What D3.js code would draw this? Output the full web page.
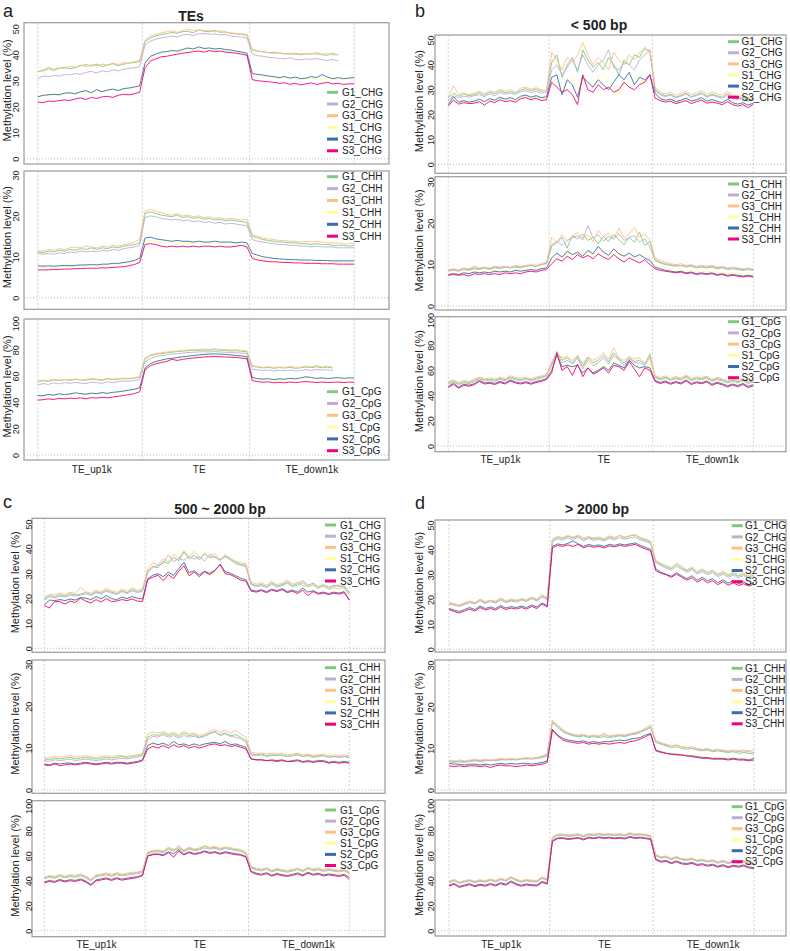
<!DOCTYPE html>
<html><head><meta charset="utf-8">
<script src="https://cdn.jsdelivr.net/npm/d3@7"></script>
<style>body{margin:0;background:#fff} svg{display:block} text{font-family:Arial,"Liberation Sans",sans-serif;fill:#222}</style>
</head><body><svg id="chart" width="790" height="951"></svg>
<script>
// ---------- labels ----------
const seriesNames = ["G1","G2","G3","S1","S2","S3"];
const seriesColors = ["#7FC97F","#BEAED4","#FDC086","#FFFF99","#386CB0","#F0027F"];
const contexts = ["CHG","CHH","CpG"];
const yTicksCHG = [0,10,20,30,40,50];
const yTicksCHH = [0,10,20,30];
const yTicksCpG = [0,20,40,60,80,100];
const xTickLabels = ["TE_up1k","TE","TE_down1k"];
const xTickPos = [10,30,51];
const regionBounds = [0,19.5,39.5,59];
const panelTitles = ["TEs","< 500 bp","500 ~ 2000 bp","> 2000 bp"];
const panelLetters = ["a","b","c","d"];

// ---------- panel a: TEs ----------
const aCHG_G1=[33.5,33.8,34.6,34.0,34.8,35.2,34.6,35.0,35.8,36.2,35.6,36.4,35.4,36.0,36.6,35.8,36.4,36.8,37.0,37.4,
45.0,46.5,47.2,47.8,48.0,48.6,48.2,48.9,49.0,48.4,49.6,49.0,48.8,49.4,48.6,48.8,48.2,48.0,47.8,47.4,
41.8,41.4,41.2,40.8,41.0,40.6,40.4,40.2,40.6,40.0,40.4,40.2,40.8,40.0,39.8,40.6,39.8,null,null,null];
const aCHG_G2=[30.8,31.8,31.6,32.0,31.8,32.4,32.2,32.8,32.4,33.2,33.6,33.0,33.8,33.4,34.2,33.8,34.4,34.8,35.0,35.4,
43.8,45.2,46.0,46.4,46.8,47.2,46.8,47.6,47.8,47.4,48.0,48.2,47.8,48.0,47.6,47.8,47.2,47.0,46.8,46.4,
40.2,39.6,39.4,39.0,38.8,38.6,38.4,38.8,38.2,38.0,38.4,38.2,38.6,38.0,37.8,38.2,37.6,null,null,null];
const aCHG_G3=[33.4,34.2,35.2,34.4,35.0,34.6,35.6,35.2,36.0,35.4,36.2,35.8,36.4,36.0,36.8,36.2,37.0,36.6,37.4,37.8,
45.6,47.2,47.8,48.4,48.8,49.2,48.6,49.4,49.8,49.2,49.6,49.2,49.4,48.8,49.2,48.6,48.4,48.2,48.0,47.8,
42.0,41.6,41.0,40.8,40.4,40.8,40.2,40.6,40.0,40.4,40.2,40.6,40.0,40.2,40.4,39.8,40.2,null,null,null];
const aCHG_S1=[23.8,24.2,24.4,24.6,24.4,25.0,25.2,24.8,25.4,25.8,25.2,26.0,25.6,26.2,26.4,26.0,26.6,26.8,27.2,27.6,
36.6,38.8,39.6,40.4,40.6,41.0,40.8,41.4,41.8,41.6,42.2,41.8,42.0,41.6,41.8,41.4,41.2,41.0,40.6,40.2,
32.2,31.8,31.6,31.4,31.2,30.8,31.0,30.6,30.8,30.4,30.6,30.8,30.4,30.6,30.2,30.4,30.6,30.2,30.4,30.8];
const aCHG_S2=[23.8,24.4,24.6,24.8,24.6,25.2,25.4,25.0,25.8,26.2,25.4,26.6,25.8,26.4,26.8,26.2,27.0,27.2,27.6,28.0,
36.8,39.4,40.2,41.0,41.2,41.6,41.4,42.0,42.6,42.2,43.0,42.4,42.6,42.2,42.4,42.0,41.8,41.4,41.0,40.6,
32.8,32.4,32.2,31.8,31.6,31.2,31.6,31.0,31.4,30.8,31.0,31.6,31.2,32.4,31.4,30.8,31.2,30.8,31.0,31.2];
const aCHG_S3=[21.8,21.6,22.2,22.0,22.4,22.6,22.4,23.0,23.4,22.8,23.6,23.2,23.8,24.0,23.6,24.4,24.8,24.6,25.0,25.6,
35.0,37.6,38.4,39.2,39.4,39.8,40.2,40.6,40.8,41.2,41.4,41.0,41.6,41.2,41.4,41.0,40.8,40.6,40.2,39.8,
30.4,30.0,29.8,29.6,29.4,29.0,29.2,28.6,29.0,28.4,28.8,29.2,28.6,29.0,29.4,28.8,29.0,28.6,28.8,28.8];

const aCHH_G1=[11.2,11.0,11.4,11.2,11.6,11.4,11.8,11.6,12.0,11.8,12.2,11.8,12.2,12.0,12.4,12.2,12.6,12.8,13.0,13.4,
20.6,21.0,20.6,20.2,20.0,19.8,20.2,19.6,19.8,19.4,19.6,19.2,19.4,19.0,19.2,18.8,19.0,18.8,18.6,18.4,
15.0,14.6,14.2,14.0,13.8,13.6,13.6,13.4,13.4,13.2,13.2,13.0,13.2,13.0,13.0,12.8,12.8,12.8,12.6,12.8];
const aCHH_G2=[10.8,10.6,10.8,10.6,11.0,10.8,11.2,11.0,11.4,11.2,11.4,11.2,11.6,11.4,11.8,11.6,12.0,12.2,12.4,12.8,
19.6,20.0,19.8,19.4,19.2,19.0,19.2,18.8,19.0,18.6,18.8,18.4,18.6,18.2,18.4,18.0,18.2,18.0,17.8,17.6,
14.2,13.8,13.6,13.4,13.2,13.0,13.0,12.8,12.8,12.6,12.6,12.4,12.6,12.4,12.4,12.4,12.2,12.2,12.2,12.2];
const aCHH_G3=[11.6,11.4,11.8,11.6,12.0,11.8,12.2,12.4,12.2,12.6,12.4,12.2,12.6,12.4,12.8,12.6,13.0,13.2,13.6,14.2,
21.2,21.6,21.2,20.8,20.4,20.2,20.6,20.0,20.2,19.8,20.0,19.6,19.8,19.4,19.6,19.2,19.4,19.2,19.0,19.2,
15.4,15.0,14.6,14.4,14.2,14.0,14.0,13.8,13.8,13.6,13.8,13.6,13.8,13.6,13.4,13.4,13.4,13.2,13.2,13.4];
const aCHH_S1=[7.4,7.4,7.5,7.4,7.5,7.6,7.6,7.7,7.7,7.8,7.8,7.9,7.9,8.0,8.1,8.2,8.3,8.5,8.7,9.0,
13.8,14.0,13.8,13.6,13.6,13.4,13.4,13.4,13.2,13.4,13.2,13.2,13.4,13.2,13.2,13.2,13.0,13.2,13.0,12.8,
10.0,9.6,9.4,9.2,9.0,9.0,8.9,8.8,8.8,8.8,8.7,8.7,8.6,8.6,8.6,8.6,8.5,8.5,8.5,8.5];
const aCHH_S2=[7.8,7.7,7.8,7.7,7.8,7.9,7.8,7.9,8.0,8.0,8.1,8.0,8.2,8.2,8.4,8.4,8.6,8.8,9.1,9.6,
14.6,14.8,14.4,14.2,14.0,13.8,14.0,13.8,13.8,13.6,13.8,13.6,13.6,13.8,13.6,13.6,13.6,13.4,13.6,13.4,
10.8,10.4,10.0,9.8,9.6,9.5,9.4,9.3,9.3,9.2,9.2,9.2,9.1,9.1,9.1,9.0,9.0,9.0,9.0,9.0];
const aCHH_S3=[6.8,6.8,6.8,6.9,6.9,7.0,7.0,7.1,7.1,7.2,7.2,7.2,7.3,7.3,7.4,7.5,7.6,7.8,8.1,8.6,
13.0,13.2,13.0,12.6,12.4,12.6,12.4,12.6,12.4,12.6,12.4,12.6,12.6,12.4,12.6,12.4,12.4,12.6,12.8,12.4,
9.6,9.2,9.0,8.8,8.8,8.7,8.6,8.6,8.5,8.5,8.4,8.4,8.4,8.3,8.3,8.3,8.2,8.2,8.2,8.2];

const aCpG_G1=[55.6,56.4,55.8,57.0,56.4,57.2,56.6,57.4,57.0,56.8,57.6,57.2,56.6,57.8,57.2,57.6,58.0,57.8,58.4,59.0,
73.0,75.4,76.4,77.0,77.6,78.0,78.6,78.8,79.2,79.6,79.4,79.8,79.6,80.0,79.6,79.4,79.0,79.2,78.8,78.4,
67.4,66.8,66.2,66.6,65.8,66.4,66.0,66.6,65.8,66.2,66.8,66.4,67.0,66.2,66.8,66.0,null,null,null,null];
const aCpG_G2=[53.0,54.2,53.6,54.8,54.0,55.0,54.4,55.2,54.6,54.2,55.4,55.0,54.4,55.6,55.0,55.8,56.2,56.0,56.6,57.4,
70.8,73.4,74.6,75.4,76.0,76.6,77.0,77.4,77.8,78.0,78.2,78.4,78.2,78.6,78.2,78.0,77.8,77.6,77.4,77.0,
65.0,64.6,64.2,64.6,63.8,64.4,64.0,64.6,63.8,64.2,64.8,64.2,65.0,64.4,64.8,64.0,null,null,null,null];
const aCpG_G3=[56.0,57.0,56.4,57.6,56.8,57.4,57.0,57.8,57.2,57.4,58.0,57.6,57.2,58.2,57.6,58.0,58.4,58.2,58.8,59.4,
73.6,76.0,77.0,77.6,78.2,78.6,79.0,79.4,79.8,80.0,80.2,80.4,80.2,80.6,80.2,80.0,79.8,79.8,79.4,79.0,
67.8,67.2,66.6,67.0,66.4,66.8,66.4,67.2,66.6,66.8,67.4,67.0,68.0,66.8,67.4,66.6,null,null,null,null];
const aCpG_S1=[44.2,44.6,45.4,44.8,45.6,45.2,46.0,45.6,46.2,45.8,46.4,46.0,46.6,46.4,47.0,47.4,47.8,48.4,49.2,50.2,
65.8,69.0,70.4,71.4,72.2,72.8,73.4,73.8,74.2,74.6,75.0,75.2,75.4,75.6,75.4,75.2,75.0,74.8,74.4,74.0,
57.4,56.8,56.4,56.8,56.2,56.6,56.4,57.0,56.6,57.2,57.6,57.2,56.8,57.0,56.6,56.8,57.0,56.8,57.2,57.0];
const aCpG_S2=[45.2,45.0,46.0,45.4,46.6,45.8,46.4,47.2,46.6,46.2,47.0,46.6,47.4,46.8,47.6,48.0,48.6,49.2,50.0,51.0,
66.0,69.4,71.0,72.0,73.0,73.4,74.0,74.6,75.0,75.6,76.0,76.4,76.6,76.8,76.6,76.4,76.0,75.6,75.2,74.6,
58.8,58.0,57.6,58.0,57.2,57.8,57.6,58.2,57.8,58.6,59.4,58.8,58.2,58.6,58.0,58.4,58.8,58.2,58.6,58.4];
const aCpG_S3=[41.6,42.0,42.6,42.2,43.0,42.6,43.2,42.8,43.4,42.6,43.6,43.2,43.8,43.4,44.0,44.6,45.2,45.8,46.6,48.0,
64.6,67.8,69.2,70.2,71.0,72.6,71.8,72.6,73.2,73.6,74.0,74.4,74.6,74.8,74.6,74.4,74.2,74.0,73.6,73.0,
56.4,55.8,55.2,55.6,54.8,55.2,54.8,55.4,55.0,55.4,55.8,55.4,55.0,55.4,55.0,55.2,55.4,55.0,55.4,55.2];

// ---------- panel b: < 500 bp ----------
const bCHG_G1=[26.8,28.6,27.4,28.2,27.6,28.0,28.8,27.8,29.0,28.4,29.6,28.8,29.2,28.6,29.8,30.4,29.6,30.2,29.4,29.8,
41.0,44.0,35.0,40.0,43.0,37.0,46.0,42.0,39.0,41.0,38.0,43.0,40.0,36.0,42.0,40.0,44.0,43.0,47.0,45.0,
30.2,28.4,27.6,28.2,27.0,27.8,28.6,27.2,28.0,28.8,27.4,28.2,27.6,27.0,28.4,27.2,26.4,27.0,25.8,26.6];
const bCHG_G2=[25.8,27.6,26.8,27.4,27.0,27.6,28.0,27.2,28.4,27.6,28.8,28.2,28.6,28.0,29.2,29.6,28.8,29.4,28.6,29.0,
38.0,40.0,36.0,39.0,42.0,38.0,44.0,40.0,37.0,40.0,42.0,46.0,39.0,38.0,41.0,40.0,38.0,42.0,44.0,46.0,
29.6,28.0,27.2,27.8,26.8,27.4,28.2,27.0,27.6,28.4,27.0,27.8,27.2,26.6,28.0,26.8,26.0,26.6,25.4,26.2];
const bCHG_G3=[27.0,31.6,28.2,28.8,28.0,28.6,29.4,28.4,29.6,29.0,30.2,29.4,30.0,29.2,30.6,31.0,30.2,30.8,30.0,29.6,
45.0,42.0,38.0,43.0,41.0,44.0,49.0,44.0,40.0,43.0,41.0,38.0,45.0,42.0,40.0,44.0,42.0,45.0,46.0,46.0,
31.2,29.0,28.4,29.0,27.8,28.6,29.4,28.0,28.8,29.6,28.2,29.0,28.4,27.8,29.4,28.0,27.2,27.8,26.6,27.4];
const bCHG_S1=[24.0,26.4,25.0,25.4,24.8,25.2,25.8,25.0,26.0,25.4,26.6,25.8,26.2,25.6,26.8,27.2,26.4,27.0,26.2,26.8,
33.0,34.0,30.0,33.0,35.0,31.0,36.0,34.0,31.0,35.0,37.0,33.0,30.0,28.0,33.0,31.0,36.0,34.0,33.0,36.0,
27.8,26.0,25.4,25.8,24.8,25.4,26.0,25.0,25.6,26.2,25.0,25.6,25.0,24.6,25.8,24.6,24.0,24.6,23.6,24.4];
const bCHG_S2=[24.0,27.2,25.0,25.6,25.0,25.4,26.2,25.2,26.4,25.8,27.0,26.2,26.8,26.0,27.4,27.8,27.0,27.6,26.8,27.2,
35.0,36.0,28.0,34.0,32.0,27.0,35.0,33.0,31.0,34.0,32.0,30.0,33.0,36.0,34.0,37.0,32.0,35.0,34.0,36.0,
28.6,26.4,25.8,26.2,25.2,25.8,26.6,25.4,26.0,26.8,25.4,26.0,25.4,24.8,26.2,24.8,24.2,24.8,23.8,24.6];
const bCHG_S3=[23.4,25.8,24.2,24.8,24.4,24.6,25.2,23.8,25.4,24.8,26.0,25.2,25.6,25.0,26.4,26.8,26.0,26.6,25.6,26.0,
33.0,31.0,29.0,30.0,28.0,24.0,36.0,30.0,29.0,32.0,30.0,31.0,29.0,30.0,33.0,31.0,30.0,32.0,33.0,36.0,
26.6,25.6,25.0,25.4,24.4,25.0,25.6,24.4,25.2,25.8,24.6,25.0,24.6,24.0,25.2,24.0,23.4,24.0,22.8,24.0];

const bCHH_G1=[8.6,8.8,8.6,9.0,8.8,9.2,9.0,9.2,9.0,9.4,9.2,9.4,9.2,9.6,9.4,9.6,9.8,9.6,10.0,10.2,
14.4,15.2,16.6,14.0,17.0,16.2,17.4,15.8,16.6,15.0,16.8,15.6,17.2,16.0,14.8,16.6,15.4,17.8,14.6,15.6,
11.0,10.4,10.0,9.8,9.6,9.8,9.4,9.6,9.2,9.4,9.2,9.4,9.0,9.2,8.8,9.0,8.8,8.6,8.8,8.6];
const bCHH_G2=[8.4,8.6,8.4,8.8,8.6,9.0,8.8,9.2,8.8,9.2,9.0,9.4,9.2,9.4,9.2,9.6,9.8,9.6,10.0,10.4,
14.8,15.6,14.6,15.8,16.4,17.0,16.0,19.4,16.4,17.2,15.6,16.8,16.2,17.4,15.8,16.6,17.0,15.4,16.2,14.2,
11.2,10.6,10.2,10.0,9.8,9.8,9.6,9.8,9.4,9.6,9.4,9.6,9.2,9.4,9.0,9.2,9.0,8.8,9.0,8.8];
const bCHH_G3=[8.8,9.0,8.8,9.2,9.0,9.6,9.2,9.4,9.2,9.6,9.4,9.6,9.4,9.8,9.6,9.8,10.0,9.8,10.2,10.6,
16.6,15.4,17.2,15.8,16.8,17.8,16.4,17.2,15.6,18.2,16.8,17.6,16.2,18.8,16.4,17.4,19.0,16.6,17.4,16.0,
11.6,11.0,10.6,10.2,10.0,10.2,9.8,10.0,9.6,9.8,9.6,9.8,9.4,9.6,9.2,9.4,9.2,9.0,9.2,9.0];
const bCHH_S1=[7.8,8.0,7.8,8.2,8.0,8.4,8.2,8.4,8.2,8.6,8.4,8.6,8.4,8.8,8.6,8.8,9.0,8.8,9.2,9.4,
11.0,12.2,11.6,12.8,12.0,12.6,13.2,12.2,13.0,12.4,13.6,12.8,12.0,13.0,12.4,11.8,12.6,11.6,12.4,12.0,
10.0,9.4,9.0,8.8,8.6,8.8,8.4,8.6,8.2,8.4,8.2,8.4,8.0,8.2,7.8,8.0,7.8,7.6,7.8,7.6];
const bCHH_S2=[7.6,7.8,7.6,8.0,7.8,8.2,8.0,8.2,8.0,8.4,8.2,8.4,8.2,8.6,8.4,8.6,8.8,8.6,9.0,9.2,
11.6,12.8,11.8,13.2,12.4,13.0,12.0,13.4,12.6,14.4,13.0,12.2,13.8,12.6,12.0,12.8,11.8,12.4,11.6,11.0,
9.4,9.0,8.6,8.4,8.2,8.4,8.0,8.2,7.8,8.0,7.8,8.0,7.6,7.8,7.4,7.6,7.4,7.2,7.4,7.2];
const bCHH_S3=[7.4,7.6,7.4,7.6,7.2,7.8,7.6,7.8,7.6,7.8,7.6,8.0,7.8,8.0,7.8,8.2,8.4,8.2,8.6,8.8,
10.2,11.4,10.8,12.0,11.2,12.4,11.6,12.2,11.4,12.6,11.8,11.2,12.4,11.4,10.6,11.6,11.0,10.4,11.2,10.0,
9.0,8.6,8.4,8.2,8.0,8.2,7.8,8.0,7.6,7.8,7.6,7.8,7.4,7.6,7.2,7.4,7.2,7.0,7.2,7.0];

const bCpG_G1=[50.0,51.6,49.4,51.0,50.2,52.0,53.8,52.4,53.0,52.2,53.6,52.6,54.8,53.4,52.8,53.6,52.4,53.8,54.6,56.0,
65.0,75.0,68.0,70.0,66.0,71.0,63.0,70.0,66.0,68.0,72.0,67.0,74.0,69.0,66.0,70.0,67.0,68.0,65.0,73.0,
55.0,53.4,54.6,52.8,54.2,53.0,55.4,52.6,54.0,53.2,54.6,52.0,53.6,52.4,50.8,52.2,51.0,52.6,50.4,51.6];
const bCpG_G2=[49.0,50.6,48.6,50.2,49.4,51.0,53.2,51.6,52.2,51.2,52.8,51.8,54.0,52.6,52.0,52.8,51.6,53.0,54.0,55.4,
64.0,73.0,66.0,68.0,65.0,70.0,61.0,68.0,64.0,66.0,70.0,65.0,72.0,68.0,64.0,69.0,66.0,66.0,64.0,70.0,
54.2,52.6,53.8,52.0,53.4,52.2,54.6,51.8,53.2,52.4,53.8,51.2,52.8,51.6,50.0,51.4,50.2,51.8,49.6,50.8];
const bCpG_G3=[51.0,52.6,50.4,52.0,51.2,53.0,54.8,53.4,54.0,53.2,54.6,53.6,55.8,54.4,53.8,54.6,53.4,54.8,55.6,57.0,
67.0,74.0,70.0,71.0,68.0,72.0,65.0,71.0,68.0,70.0,74.0,69.0,78.0,70.0,68.0,71.0,69.0,70.0,66.0,71.0,
56.0,54.4,55.6,53.8,55.2,54.0,56.4,53.6,55.0,54.2,55.6,53.0,54.6,53.4,51.8,53.2,52.0,53.6,51.4,52.6];
const bCpG_S1=[47.6,50.2,47.0,49.4,48.6,49.8,52.4,50.4,51.0,50.0,51.6,50.4,52.8,51.2,50.4,51.4,50.2,51.6,52.4,54.0,
62.0,71.0,60.0,66.0,62.0,64.0,58.0,65.0,60.0,62.0,66.0,61.0,68.0,64.0,60.0,66.0,62.0,64.0,60.0,66.0,
52.6,51.0,52.2,50.4,51.8,50.6,53.0,50.2,51.6,50.8,52.2,49.6,51.2,50.0,48.4,49.8,48.6,50.2,48.0,49.2];
const bCpG_S2=[47.0,49.8,46.6,49.0,48.2,49.4,52.0,50.0,50.6,49.6,51.2,50.0,52.4,50.8,50.0,51.0,49.8,51.2,52.0,53.6,
60.0,72.0,63.0,64.0,63.0,64.0,58.0,62.0,58.0,60.0,63.0,60.0,66.0,64.0,62.0,68.0,64.0,62.0,63.0,62.0,
52.0,50.4,51.6,49.8,51.2,50.0,52.4,49.6,51.0,50.2,51.6,49.0,50.6,49.4,47.8,49.2,48.0,49.6,47.4,48.6];
const bCpG_S3=[46.4,49.0,45.8,48.2,47.4,48.6,51.2,49.2,49.8,48.8,50.4,49.2,51.6,50.0,49.2,50.2,49.0,50.4,51.2,52.8,
58.0,74.0,60.0,63.0,56.0,65.0,55.0,62.0,57.0,59.0,62.0,58.0,64.0,63.0,60.0,67.0,61.0,55.0,62.0,60.0,
51.2,49.6,50.8,49.0,50.4,49.2,51.6,48.8,50.2,49.4,50.8,48.2,49.8,48.6,46.8,48.4,47.0,48.8,46.4,47.6];

// ---------- panel c: 500 ~ 2000 bp ----------
const cCHG_G1=[19.8,21.2,20.8,21.6,21.0,22.0,21.4,21.8,22.4,21.6,22.8,22.2,23.4,22.6,22.0,23.2,22.4,23.6,22.8,23.4,
31.0,33.0,32.4,35.0,34.0,36.6,35.2,38.8,36.0,37.4,35.6,38.2,36.4,37.0,35.4,37.2,35.8,34.6,33.8,33.4,
26.0,25.2,25.8,24.8,26.4,25.0,25.6,26.8,25.2,26.0,27.2,25.4,26.2,24.8,25.6,24.6,25.4,24.8,25.2,22.4];
const cCHG_G2=[19.2,20.8,20.2,21.0,20.6,21.4,21.0,21.4,22.0,21.2,22.4,21.8,23.0,22.2,21.6,22.8,22.0,23.2,22.4,23.0,
30.4,32.4,33.4,34.2,37.6,34.8,36.2,35.4,37.0,35.8,36.8,35.0,37.8,36.6,35.4,36.8,35.6,34.0,33.4,32.8,
25.6,24.8,25.2,24.4,25.8,24.6,25.2,26.2,24.8,25.4,26.4,24.8,25.6,24.2,25.0,24.0,24.8,25.6,24.2,21.6];
const cCHG_G3=[20.4,21.8,21.6,22.2,21.6,22.6,22.0,24.6,22.8,22.2,23.4,22.8,24.2,23.2,22.6,23.8,23.0,24.4,23.4,24.0,
32.0,34.4,33.6,36.0,34.8,37.8,36.2,39.2,36.8,39.0,36.4,37.6,37.0,38.2,35.8,37.8,36.4,35.2,34.4,34.0,
26.6,25.8,26.4,25.4,27.0,25.6,26.2,27.4,25.8,26.6,25.2,24.8,25.4,24.0,25.2,23.6,24.4,23.8,24.6,22.2];
const cCHG_S1=[17.6,18.6,19.0,19.4,19.0,19.6,19.2,19.4,20.0,19.2,20.4,19.8,20.6,19.6,19.4,20.2,19.6,20.4,19.8,19.8,
27.6,28.4,29.6,29.0,30.2,28.4,30.0,31.6,29.8,31.0,29.2,30.6,29.4,30.8,31.2,30.4,29.6,28.8,27.8,27.2,
23.6,23.0,23.4,22.8,23.6,23.2,23.8,23.0,23.6,22.6,23.8,22.4,23.0,22.0,22.4,21.8,22.4,22.0,22.6,20.0];
const cCHG_S2=[17.4,19.4,19.2,19.6,19.2,19.8,19.4,20.4,20.2,19.6,20.8,20.0,21.2,20.0,19.6,20.6,20.0,20.8,20.2,19.8,
28.0,29.4,30.0,28.8,30.6,29.4,32.0,34.6,30.4,31.2,29.6,31.0,30.2,31.4,33.8,30.8,30.2,29.2,28.2,27.6,
23.4,23.0,23.6,22.8,23.8,23.2,24.0,22.8,23.4,22.6,24.2,22.6,23.2,22.2,22.6,22.0,22.6,22.2,22.8,19.4];
const cCHG_S3=[17.2,16.2,18.8,18.8,17.8,19.0,18.4,20.2,19.0,18.2,19.6,18.6,20.0,18.8,19.0,19.6,19.2,19.8,19.0,18.8,
27.6,28.6,29.4,27.2,29.6,28.0,31.0,33.2,29.2,30.6,28.8,30.8,29.6,31.2,33.6,30.0,29.6,28.6,27.4,27.0,
23.0,22.6,23.2,22.4,23.4,22.8,23.6,22.4,23.0,22.0,23.4,21.2,22.8,21.8,22.2,21.6,22.2,21.8,22.4,19.4];

const cCHH_G1=[7.4,7.2,7.6,7.4,7.6,7.8,7.4,7.6,7.8,7.6,7.4,7.6,7.8,7.6,7.8,8.0,7.8,8.0,8.2,8.4,
12.6,13.2,13.0,13.6,13.0,13.4,12.8,13.6,13.0,13.2,12.6,13.0,13.6,13.8,13.2,13.6,13.0,13.2,12.6,11.8,
8.6,8.4,8.6,8.2,8.4,8.2,8.4,8.0,8.2,8.4,8.0,8.2,7.8,8.0,8.2,7.8,8.0,7.8,8.0,7.8];
const cCHH_G2=[7.0,6.8,7.2,7.0,7.2,7.4,7.0,7.2,7.4,7.2,7.0,7.2,7.4,7.2,7.4,7.6,7.4,7.6,7.8,8.2,
12.0,12.8,12.6,13.2,12.6,13.0,12.4,13.0,12.6,12.8,12.4,12.8,13.4,14.0,13.0,13.4,12.8,12.6,12.2,11.4,
8.4,8.2,8.4,8.0,8.2,8.4,8.2,8.0,8.2,8.6,8.0,8.4,8.0,8.2,8.2,7.8,8.0,7.8,8.0,7.6];
const cCHH_G3=[7.8,7.6,8.0,7.8,8.0,8.2,7.8,8.0,8.2,8.0,7.8,8.0,8.2,8.0,8.2,8.2,8.0,8.2,8.4,8.8,
13.4,13.8,13.6,14.0,13.4,13.8,13.2,14.0,13.4,13.6,13.0,13.4,14.0,14.4,13.8,14.2,13.6,14.2,13.4,12.6,
9.0,8.8,8.8,8.6,8.8,8.6,8.8,8.4,8.6,8.8,8.4,8.6,8.2,8.4,8.6,8.2,8.4,8.2,8.4,8.2];
const cCHH_S1=[6.4,6.2,6.6,6.4,6.6,6.6,6.4,6.6,6.8,6.6,6.4,6.6,6.8,6.6,6.8,6.8,6.6,6.8,7.0,7.4,
10.2,10.8,10.6,11.0,10.4,10.8,10.2,11.0,10.4,10.8,10.4,10.8,11.2,11.0,10.8,11.0,10.6,10.8,10.4,10.0,
7.6,7.4,7.4,7.2,7.4,7.2,7.4,7.0,7.2,7.4,7.0,7.2,7.0,7.2,7.2,6.8,7.0,6.8,7.0,6.8];
const cCHH_S2=[6.2,6.0,6.4,6.2,6.4,6.4,6.2,6.4,6.6,6.4,6.2,6.4,6.6,6.4,6.6,6.6,6.4,6.6,6.8,7.2,
10.6,11.2,10.8,11.2,10.6,11.6,10.8,11.0,10.6,11.0,10.6,11.0,11.2,11.4,11.0,11.6,10.8,11.0,10.6,10.2,
7.4,7.2,7.2,7.0,7.2,7.0,7.2,6.8,7.0,7.2,6.8,7.0,6.8,7.0,7.0,6.6,6.8,6.6,6.8,6.6];
const cCHH_S3=[6.0,5.8,6.2,5.8,6.0,6.2,6.0,6.2,6.4,6.2,6.0,6.2,6.4,6.2,6.4,6.4,6.2,6.4,6.6,7.0,
9.8,10.4,10.0,10.6,10.0,10.8,10.2,10.6,10.0,10.4,10.0,10.4,10.8,11.0,10.6,10.8,10.4,10.6,10.2,9.8,
7.4,7.2,7.2,7.0,7.0,6.8,7.0,6.8,6.8,7.0,6.6,6.8,6.6,6.8,6.8,6.4,6.6,6.4,6.6,6.4];

const cCpG_G1=[42.4,43.6,42.8,44.4,43.0,44.2,43.6,44.8,43.2,40.4,44.0,44.8,45.6,44.4,45.8,44.6,45.4,46.0,46.4,47.4,
62.4,63.6,64.0,63.2,66.0,64.4,65.6,64.0,66.2,64.8,65.4,67.6,66.0,66.8,65.2,66.4,65.8,65.0,64.4,62.0,
51.0,49.4,48.6,49.8,47.8,49.2,48.2,47.6,48.4,49.8,48.0,50.6,48.8,49.6,48.2,49.0,48.4,47.8,48.6,46.4];
const cCpG_G2=[41.4,42.6,41.8,43.4,42.2,43.2,42.6,43.8,42.2,39.8,43.2,43.8,44.6,43.4,44.8,43.8,44.4,45.0,45.6,46.6,
61.6,62.8,63.2,62.4,64.8,63.6,68.4,63.0,65.2,64.0,64.6,66.2,65.2,65.8,64.4,65.6,65.0,64.0,63.6,61.2,
50.2,48.6,47.8,49.0,47.0,48.4,47.4,46.8,47.6,48.8,47.2,49.4,47.8,48.6,47.4,48.2,47.6,47.0,47.8,45.6];
const cCpG_G3=[42.8,44.2,43.4,45.0,43.6,44.8,44.2,45.4,43.8,41.0,44.6,45.4,46.2,45.0,46.4,45.2,46.0,46.6,47.0,48.0,
63.0,64.4,64.6,63.8,66.8,65.2,66.4,64.8,67.0,65.4,66.2,68.0,66.6,67.4,66.0,67.0,66.4,65.6,65.0,62.8,
51.6,50.0,49.2,50.4,48.4,49.8,48.8,48.2,49.0,49.4,48.6,49.8,49.4,50.2,48.8,49.6,49.0,48.4,49.2,47.0];
const cCpG_S1=[39.6,40.8,40.0,41.6,40.4,41.4,40.8,42.0,40.4,37.6,41.2,42.0,42.8,41.6,43.0,41.8,42.6,43.2,43.8,45.0,
60.4,61.6,62.0,61.0,63.6,62.2,63.4,61.8,63.6,62.4,63.0,64.6,63.2,63.8,62.6,63.6,63.0,62.2,61.6,60.0,
48.4,46.8,46.0,47.2,45.2,46.6,45.6,45.0,45.8,47.0,45.4,47.6,46.0,46.8,45.4,46.2,45.6,45.0,45.8,43.8];
const cCpG_S2=[39.0,40.2,39.4,41.0,39.8,40.8,40.2,41.4,39.8,37.0,40.6,41.4,42.2,41.0,42.4,41.2,42.0,42.6,43.2,44.6,
60.0,61.2,61.4,60.6,63.0,61.6,64.8,61.2,63.0,61.8,62.4,63.8,62.6,63.2,62.0,63.2,62.4,61.6,61.0,59.4,
47.6,46.0,45.2,46.4,44.4,45.8,44.8,44.2,45.0,46.2,44.6,46.8,45.2,46.0,44.6,45.4,44.8,44.2,45.0,42.8];
const cCpG_S3=[38.2,39.4,38.6,40.2,39.0,40.0,39.4,40.6,39.0,36.2,39.8,40.6,41.4,40.2,41.6,40.4,41.2,41.8,42.4,44.0,
59.6,60.8,61.0,60.0,62.4,58.8,63.6,60.6,62.4,61.0,61.8,63.2,61.8,62.6,61.2,62.4,61.6,60.8,60.4,58.8,
46.8,45.2,44.4,45.6,43.6,45.0,44.0,43.4,44.2,45.4,43.8,46.0,44.4,45.2,43.8,44.6,44.0,43.4,44.2,41.0];

// ---------- panel d: > 2000 bp ----------
const dCHG_G1=[18.6,18.2,17.6,18.4,19.2,18.6,20.0,18.8,19.6,19.0,20.4,19.2,19.8,19.4,20.2,19.6,20.8,19.8,21.6,20.4,
43.8,45.0,44.6,45.4,44.8,45.6,44.2,45.0,44.4,44.8,44.0,45.2,44.6,45.8,44.8,45.6,46.0,44.6,44.0,43.0,
35.4,34.2,33.2,32.4,34.2,32.8,31.6,32.6,30.8,31.8,30.6,31.4,29.8,30.8,29.6,30.4,29.4,30.2,29.0,30.0];
const dCHG_G2=[18.2,17.8,17.2,18.0,18.8,18.2,19.4,18.4,19.2,18.6,19.8,18.8,19.4,19.0,19.8,19.2,20.4,19.4,21.0,20.0,
43.2,44.4,44.0,44.8,44.2,45.0,43.6,44.6,43.8,44.2,43.6,44.6,44.0,45.0,44.2,44.8,45.2,44.0,43.4,42.6,
34.8,33.6,32.6,31.8,33.4,32.2,31.0,32.0,30.2,31.2,30.0,30.8,29.2,30.2,29.0,29.8,28.8,29.6,28.4,29.4];
const dCHG_G3=[18.8,18.4,17.8,18.8,19.4,18.8,20.2,19.2,19.8,19.4,20.6,19.6,20.2,19.8,20.4,20.0,21.0,20.2,22.0,20.8,
44.4,45.4,45.0,45.8,45.2,46.0,44.8,45.4,44.8,45.2,44.6,45.6,45.0,45.8,45.2,45.8,46.2,45.0,44.4,43.6,
35.8,34.6,33.8,32.8,34.6,33.4,32.0,33.2,31.4,32.4,31.0,32.0,30.4,31.4,30.2,31.0,30.0,30.8,29.6,30.6];
const dCHG_S1=[16.2,15.6,15.0,15.8,16.6,15.8,17.2,16.2,16.8,16.2,17.4,16.4,17.0,16.6,17.2,16.6,17.6,16.8,18.4,17.4,
41.0,42.0,41.6,42.2,41.6,42.4,41.0,41.8,41.2,41.6,41.0,41.8,41.4,42.0,41.6,42.0,42.4,41.4,40.6,39.8,
32.0,30.6,29.8,29.0,30.4,29.2,28.0,29.2,27.4,28.6,27.2,28.0,26.4,27.6,26.2,27.2,26.0,26.8,25.6,26.6];
const dCHG_S2=[16.4,15.8,15.2,16.0,16.8,16.0,17.4,16.4,17.0,16.4,17.6,16.6,17.2,16.8,17.4,16.8,17.8,17.0,18.6,17.6,
41.4,42.4,42.0,42.6,43.6,42.4,41.4,42.2,41.6,42.0,41.4,42.2,41.8,42.4,42.0,42.4,42.8,41.8,41.0,40.2,
32.4,31.0,30.2,29.4,30.8,29.6,28.4,29.6,27.8,29.0,27.6,28.4,26.8,28.0,26.6,27.6,26.4,27.2,26.0,27.0];
const dCHG_S3=[16.0,15.2,14.6,15.4,16.2,15.4,16.8,15.8,16.4,15.8,17.0,16.0,16.6,16.2,16.8,16.2,17.2,16.4,18.2,17.0,
40.8,41.8,41.4,42.0,41.4,42.2,40.8,41.6,41.0,41.4,40.8,41.6,41.2,41.8,41.4,41.8,42.2,41.2,40.4,39.6,
31.6,30.6,30.0,29.0,30.2,29.0,27.8,28.8,27.0,28.2,26.8,27.6,26.0,27.2,25.8,26.8,25.6,26.4,25.4,26.2];

const dCHH_G1=[7.0,6.8,7.0,6.8,7.0,7.2,7.0,7.2,7.0,7.2,7.4,7.2,7.4,7.2,7.4,7.6,7.4,7.6,7.8,8.2,
16.2,15.0,14.0,13.4,13.0,12.8,13.0,12.6,12.8,12.6,12.8,12.6,12.8,13.0,12.8,13.2,13.4,13.8,14.4,15.0,
11.4,11.0,10.6,10.2,10.4,10.0,9.8,10.0,9.6,9.4,9.6,9.2,9.4,9.2,9.0,9.2,8.8,9.0,8.8,8.6];
const dCHH_G2=[6.8,6.6,6.8,6.6,6.8,7.0,6.8,7.0,7.2,7.0,7.2,7.4,7.2,7.4,7.6,7.4,7.6,7.8,8.0,8.4,
16.4,15.4,14.2,13.6,13.2,13.0,13.2,12.8,13.0,12.8,13.6,12.8,13.0,13.2,13.0,13.4,13.6,14.0,14.6,15.2,
11.6,11.2,10.8,10.6,10.8,10.4,10.2,10.0,9.8,9.6,9.8,9.4,9.6,9.4,9.2,9.4,9.2,9.4,9.2,9.0];
const dCHH_G3=[7.2,7.0,7.2,7.0,7.2,7.4,7.2,7.4,7.2,7.4,7.6,7.4,7.6,7.4,7.6,7.8,7.6,7.8,8.2,8.8,
16.8,15.6,14.6,13.8,13.4,13.2,13.4,13.0,13.2,13.0,13.2,13.0,13.2,13.4,13.2,13.6,13.8,14.2,14.8,15.6,
12.0,11.4,11.0,10.6,10.8,10.4,10.2,10.4,10.0,9.8,10.0,9.6,9.8,9.6,9.4,9.6,9.4,9.6,9.4,9.6];
const dCHH_S1=[6.0,5.8,6.0,5.8,6.0,6.0,5.8,6.0,5.8,6.0,6.2,6.0,6.2,6.0,6.2,6.2,6.0,6.2,6.4,6.8,
14.2,13.0,12.2,11.8,11.6,11.4,11.6,11.2,11.4,11.2,11.4,11.2,11.4,11.6,11.4,11.8,12.0,12.4,12.8,13.4,
9.8,9.4,9.0,8.8,8.8,8.6,8.4,8.4,8.2,8.0,8.0,7.8,7.8,7.8,7.6,7.8,7.6,7.6,7.4,7.4];
const dCHH_S2=[6.4,6.2,6.2,6.0,6.2,6.2,6.0,6.2,6.0,6.2,6.4,6.2,6.4,6.2,6.4,6.4,6.2,6.4,6.6,7.0,
14.6,13.2,12.4,12.0,11.8,11.6,11.8,11.4,11.6,11.4,11.6,11.6,11.8,12.0,11.8,12.2,12.4,12.6,13.2,13.6,
9.6,9.2,8.8,8.6,8.6,8.4,8.2,8.2,8.0,7.8,7.8,7.6,7.6,7.6,7.4,7.6,7.4,7.4,7.2,7.6];
const dCHH_S3=[5.8,5.6,5.8,5.6,5.8,5.8,5.6,5.8,5.4,5.8,6.0,5.8,5.8,5.6,5.8,6.0,5.8,6.0,6.2,6.6,
14.4,13.0,12.0,11.6,11.4,11.2,11.4,11.0,11.2,11.0,11.2,11.0,11.2,11.4,11.2,11.6,11.8,12.2,12.8,13.4,
9.4,9.0,8.8,8.6,8.4,8.4,8.2,8.0,7.8,7.6,7.6,7.4,7.4,7.4,7.2,7.4,7.2,7.2,7.0,7.2];

const dCpG_G1=[39.0,40.6,38.4,39.6,40.4,39.0,40.2,39.4,40.8,39.6,41.4,40.2,42.8,40.6,39.4,40.4,39.8,39.6,42.4,41.0,
74.4,76.6,76.8,76.0,76.4,77.0,75.6,77.2,76.6,77.4,76.8,77.2,76.6,77.0,76.4,77.8,76.8,77.2,76.6,75.8,
60.4,58.6,59.2,57.4,58.8,57.2,56.8,57.6,56.0,56.6,55.4,56.2,54.6,55.8,54.2,55.4,54.6,55.6,54.0,53.4];
const dCpG_G2=[38.4,40.0,37.8,39.0,39.8,38.4,39.6,38.8,40.2,39.0,40.8,39.6,42.2,40.0,38.8,39.8,39.2,39.0,41.8,40.4,
73.8,76.0,76.2,75.4,75.8,76.4,75.0,76.6,76.0,76.8,76.2,76.6,76.0,76.4,75.8,77.2,76.2,76.6,76.0,75.2,
59.8,58.0,58.6,56.8,58.2,56.6,56.2,57.0,55.4,56.0,54.8,55.6,54.0,55.2,53.6,54.8,54.0,55.0,53.4,52.8];
const dCpG_G3=[39.4,41.0,38.8,40.2,40.8,39.6,40.8,40.0,41.4,40.2,42.0,40.8,43.4,41.2,40.0,41.0,40.4,40.2,43.0,41.6,
75.0,77.2,77.4,76.6,77.0,77.6,76.2,77.8,77.2,78.0,77.4,77.8,77.2,77.6,77.0,78.4,77.4,77.8,77.2,76.4,
61.0,59.2,59.8,58.0,59.4,57.8,57.4,58.2,56.6,57.2,56.0,56.8,55.2,56.4,54.8,56.0,55.2,56.2,54.6,54.0];
const dCpG_S1=[36.6,38.2,35.8,37.0,38.0,36.4,37.6,36.8,38.2,37.0,38.8,37.6,40.2,38.0,36.8,37.8,37.2,37.0,39.8,38.4,
72.4,74.6,74.8,74.0,74.4,75.0,73.6,75.2,74.6,75.4,74.8,75.2,74.6,75.0,74.4,75.8,74.8,75.2,74.6,74.0,
57.8,56.0,56.6,54.8,56.2,54.6,54.2,55.0,53.4,54.0,52.8,53.6,52.0,53.2,51.6,52.8,52.0,53.0,51.4,50.8];
const dCpG_S2=[36.4,37.8,35.4,36.6,37.6,36.0,37.2,36.4,37.8,36.6,38.4,37.2,39.8,37.6,36.4,37.4,36.8,36.6,39.4,38.0,
72.0,74.2,74.4,73.6,74.0,74.6,73.2,74.8,74.2,75.0,74.4,74.8,74.2,74.6,74.0,75.4,74.4,74.8,74.2,73.6,
57.4,55.6,56.2,54.4,55.8,54.2,53.8,54.6,53.0,53.6,52.4,53.2,51.6,52.8,51.2,52.4,51.6,52.6,51.0,50.4];
const dCpG_S3=[35.6,37.0,34.6,35.8,36.8,35.2,36.4,35.6,37.0,35.8,37.6,36.4,39.0,36.8,35.6,36.6,36.0,35.8,38.6,37.2,
71.4,73.6,73.8,73.0,73.4,74.0,72.6,74.2,73.6,74.4,73.8,74.2,73.6,74.0,73.4,74.8,73.8,74.2,73.6,73.0,
56.6,54.8,55.4,53.6,55.0,53.4,53.0,53.8,52.2,52.8,51.6,52.4,50.8,52.0,50.4,51.6,50.8,51.8,50.2,49.6];

// ---------- assemble tables from the arrays ----------
const dataSets = {
  aCHG:[aCHG_G1,aCHG_G2,aCHG_G3,aCHG_S1,aCHG_S2,aCHG_S3],
  aCHH:[aCHH_G1,aCHH_G2,aCHH_G3,aCHH_S1,aCHH_S2,aCHH_S3],
  aCpG:[aCpG_G1,aCpG_G2,aCpG_G3,aCpG_S1,aCpG_S2,aCpG_S3],
  bCHG:[bCHG_G1,bCHG_G2,bCHG_G3,bCHG_S1,bCHG_S2,bCHG_S3],
  bCHH:[bCHH_G1,bCHH_G2,bCHH_G3,bCHH_S1,bCHH_S2,bCHH_S3],
  bCpG:[bCpG_G1,bCpG_G2,bCpG_G3,bCpG_S1,bCpG_S2,bCpG_S3],
  cCHG:[cCHG_G1,cCHG_G2,cCHG_G3,cCHG_S1,cCHG_S2,cCHG_S3],
  cCHH:[cCHH_G1,cCHH_G2,cCHH_G3,cCHH_S1,cCHH_S2,cCHH_S3],
  cCpG:[cCpG_G1,cCpG_G2,cCpG_G3,cCpG_S1,cCpG_S2,cCpG_S3],
  dCHG:[dCHG_G1,dCHG_G2,dCHG_G3,dCHG_S1,dCHG_S2,dCHG_S3],
  dCHH:[dCHH_G1,dCHH_G2,dCHH_G3,dCHH_S1,dCHH_S2,dCHH_S3],
  dCpG:[dCpG_G1,dCpG_G2,dCpG_G3,dCpG_S1,dCpG_S2,dCpG_S3]
};
const yTicksByCtx = {CHG:yTicksCHG, CHH:yTicksCHH, CpG:yTicksCpG};

// ---------- layout (pixels) ----------
const layout = [
 {letterX:3, letterY:17, titleX:191, titleY:20.5, boxL:24, boxR:389, gx0:37.7, gx3:354.3, tickX:15.5, axTitleX:6.5, xLabY:473,
  legLine:327, legText:342,
  subs:[{top:22.7,bottom:164,y0:158.8,yTop:28.7,legY:92.3,legDy:11.7},
        {top:171,bottom:309.3,y0:297.7,yTop:175,legY:176.7,legDy:11.9},
        {top:319,bottom:460,y0:455,yTop:323.3,legY:391.7,legDy:11.8}]},
 {letterX:415, letterY:17, titleX:599, titleY:29.5, boxL:435, boxR:786, gx0:448.3, gx3:753.3, tickX:430.5, axTitleX:419, xLabY:463,
  legLine:728, legText:741.5,
  subs:[{top:35,bottom:173.3,y0:164.3,yTop:40,legY:41.7,legDy:11.1},
        {top:176.7,bottom:310,y0:306,yTop:181.7,legY:184,legDy:11},
        {top:316.7,bottom:451.7,y0:446,yTop:320,legY:321.7,legDy:11.2}]},
 {letterX:3, letterY:508, titleX:220, titleY:514, boxL:32, boxR:385, gx0:44.3, gx3:349.3, tickX:29, axTitleX:15, xLabY:948,
  legLine:325, legText:340,
  subs:[{top:518.3,bottom:652.3,y0:648.3,yTop:524,legY:525,legDy:11.2},
        {top:660,bottom:793.3,y0:790,yTop:664.3,legY:667.7,legDy:11.3},
        {top:800.7,bottom:936.7,y0:930.7,yTop:805.7,legY:810,legDy:11.1}]},
 {letterX:415, letterY:509, titleX:597, titleY:514.3, boxL:435, boxR:786, gx0:449, gx3:754, tickX:430.5, axTitleX:419, xLabY:948,
  legLine:731.7, legText:745,
  subs:[{top:520,bottom:652,y0:649.3,yTop:525,legY:525.7,legDy:11.2},
        {top:660,bottom:793,y0:790,yTop:665,legY:668.3,legDy:11.1},
        {top:800,bottom:936,y0:930.7,yTop:805.7,legY:806.7,legDy:11}]}
];

const svg = d3.select("#chart");
svg.append("rect").attr("width",790).attr("height",951).attr("fill","#fff");

layout.forEach((P, pi) => {
  const g = svg.append("g");
  g.append("text").attr("x",P.letterX).attr("y",P.letterY).attr("font-size",18).text(panelLetters[pi]);
  g.append("text").attr("x",P.titleX).attr("y",P.titleY).attr("text-anchor","middle")
    .attr("font-size",14).attr("font-weight","bold").text(panelTitles[pi]);

  const x = d3.scaleLinear().domain([0,59]).range([P.gx0,P.gx3]);

  P.subs.forEach((S, si) => {
    const ctx = contexts[si];
    const ticks = yTicksByCtx[ctx];
    const ymax = ticks[ticks.length-1];
    const y = d3.scaleLinear().domain([0,ymax]).range([S.y0,S.yTop]);
    const sg = g.append("g");

    // vertical region grid lines
    sg.selectAll("line.vg").data(regionBounds).join("line")
      .attr("x1",d=>x(d)).attr("x2",d=>x(d)).attr("y1",S.top).attr("y2",S.bottom)
      .attr("stroke","#c8c8c8").attr("stroke-width",0.8).attr("stroke-dasharray","2,2");
    // zero line
    sg.append("line").attr("x1",P.boxL).attr("x2",P.boxR).attr("y1",y(0)).attr("y2",y(0))
      .attr("stroke","#aaa").attr("stroke-width",0.8).attr("stroke-dasharray","1,2");

    // series
    const line = d3.line().defined(d=>d!=null).x((d,i)=>x(i)).y(d=>y(d));
    const series = dataSets[panelLetters[pi]+ctx];
    sg.selectAll("path.s").data(series).join("path")
      .attr("d",d=>line(d)).attr("fill","none")
      .attr("stroke",(d,i)=>seriesColors[i]).attr("stroke-width",0.9).attr("stroke-linejoin","round");

    // box
    sg.append("rect").attr("x",P.boxL).attr("y",S.top).attr("width",P.boxR-P.boxL).attr("height",S.bottom-S.top)
      .attr("fill","none").attr("stroke","#9a9a9a").attr("stroke-width",1.2);

    // y tick labels (rotated, R style)
    const yAxis = d3.axisLeft(y).tickValues(ticks).tickSize(0).tickFormat(d3.format("d"));
    const ya = sg.append("g").attr("transform",`translate(${P.tickX},0)`).call(yAxis);
    ya.select(".domain").remove();
    ya.selectAll("text").attr("x",0).attr("dy",0).attr("font-size",9).attr("fill","#333")
      .attr("text-anchor","middle")
      .attr("transform","translate(3,0) rotate(-90)");

    // axis title
    const cy = (S.top+S.bottom)/2 - 3;
    sg.append("text").attr("transform",`translate(${P.axTitleX+4},${cy}) rotate(-90)`)
      .attr("text-anchor","middle").attr("font-size",11).attr("fill","#333").text("Methylation level (%)");

    // legend
    const lg = sg.selectAll("g.leg").data(seriesNames).join("g")
      .attr("transform",(d,i)=>`translate(0,${S.legY + i*S.legDy})`);
    lg.append("line").attr("x1",P.legLine).attr("x2",P.legLine+11).attr("y1",0).attr("y2",0)
      .attr("stroke",(d,i)=>seriesColors[i]).attr("stroke-width",3);
    lg.append("text").attr("x",P.legText).attr("y",3.6).attr("font-size",10).attr("fill","#333")
      .text(d=>d+"_"+ctx);

    // x labels under last subplot
    if (si===2) {
      const xAxis = d3.axisBottom(x).tickValues(xTickPos).tickSize(0).tickFormat((d,i)=>xTickLabels[i]);
      const xa = sg.append("g").attr("transform",`translate(0,${P.xLabY})`).call(xAxis);
      xa.select(".domain").remove();
      xa.selectAll("text").attr("y",0).attr("dy",0).attr("font-size",10).attr("fill","#222")
        .attr("font-family","Arial, 'Liberation Sans', sans-serif");
    }
  });
});
</script></body></html>
